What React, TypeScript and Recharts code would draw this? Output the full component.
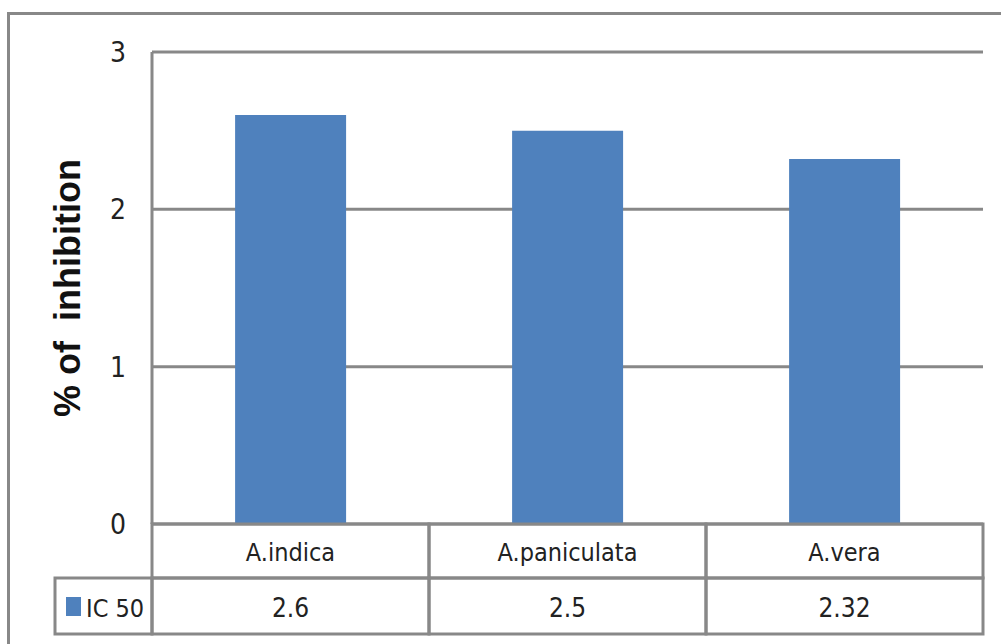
import { BarChart, Bar, XAxis, YAxis, CartesianGrid } from 'recharts'

const categories = ['A.indica', 'A.paniculata', 'A.vera']
const ic50Values = [2.6, 2.5, 2.32]
const yTicks = [0, 1, 2, 3]
const seriesName = 'IC 50'
const yLabel = '% of  inhibition'

const data = categories.map((name, i) => ({ name, ic50: ic50Values[i] }))

const BLUE = '#4F81BD'
const LINE = '#888888'
const TEXT = '#222222'
const NARROW = "'Liberation Sans Narrow', 'DejaVu Sans Condensed', sans-serif"

// draws the data table under the plot, one column per category
const TableTick = (props: any) => {
    const { x, y, payload, index, width, visibleTicksCount } = props
    const cell = width / (visibleTicksCount || categories.length)
    const half = cell / 2
    const rowH = 54
    const legendW = 97
    const left = x - half
    return (
        <g>
            <rect x={left} y={y} width={cell} height={rowH} fill="none" stroke={LINE} strokeWidth={3} />
            <rect x={left} y={y + rowH} width={cell} height={rowH + 2} fill="none" stroke={LINE} strokeWidth={3} />
            <text x={x} y={y + 28} textAnchor="middle" dominantBaseline="central"
                fontFamily={NARROW} fontSize={25} fill={TEXT}>
                {payload.value}
            </text>
            <text x={x} y={y + rowH + 30} textAnchor="middle" dominantBaseline="central"
                fontFamily={NARROW} fontSize={26} fill={TEXT}>
                {ic50Values[index]}
            </text>
            {index === 0 && (
                <g>
                    <rect x={left - legendW} y={y + rowH} width={legendW} height={rowH + 2}
                        fill="none" stroke={LINE} strokeWidth={3} />
                    <rect x={left - legendW + 11} y={y + rowH + 19} width={15} height={19} fill={BLUE} />
                    <text x={left - legendW + 31} y={y + rowH + 30} dominantBaseline="central"
                        fontFamily={NARROW} fontSize={25} fill={TEXT}>
                        {seriesName}
                    </text>
                </g>
            )}
        </g>
    )
}

const YTitle = (props: any) => {
    const vb = props.viewBox || {}
    const cx = 67
    const cy = (vb.y || 0) + (vb.height || 0) / 2
    return (
        <text x={cx} y={cy} transform={`rotate(-90 ${cx} ${cy})`} textAnchor="middle"
            dominantBaseline="central" fontFamily="'Liberation Sans', Arial, sans-serif"
            fontWeight="bold" fontSize={36} fill="#111" style={{ whiteSpace: 'pre' }}>
            {yLabel}
        </text>
    )
}

const App = () => {
    return (
        <div style={{ position: 'fixed', left: 0, top: 0, width: 1001, height: 644, background: '#fff', overflow: 'hidden' }}>
            <div style={{
                position: 'absolute', left: 7, top: 12, width: 1100, height: 800,
                border: `3px solid ${LINE}`, boxSizing: 'border-box'
            }} />
            <div style={{ position: 'absolute', left: 0, top: 0 }}>
                <BarChart width={1001} height={644} data={data}
                    margin={{ top: 52, right: 18, left: 0, bottom: 0 }}
                    barCategoryGap="30%">
                    <CartesianGrid vertical={false} stroke={LINE} strokeWidth={3} />
                    <XAxis dataKey="name" height={120} axisLine={false} tickLine={false}
                        tickSize={0} tickMargin={0} interval={0} tick={<TableTick />} />
                    <YAxis width={152} domain={[0, 3]} ticks={yTicks} interval={0}
                        axisLine={{ stroke: LINE, strokeWidth: 3 }} tickLine={false}
                        tickSize={0} tickMargin={26}
                        tick={{ fill: TEXT, fontSize: 28, fontFamily: NARROW }}
                        label={<YTitle />} />
                    <Bar dataKey="ic50" fill={BLUE} isAnimationActive={false} />
                </BarChart>
            </div>
        </div>
    )
}

export default App
